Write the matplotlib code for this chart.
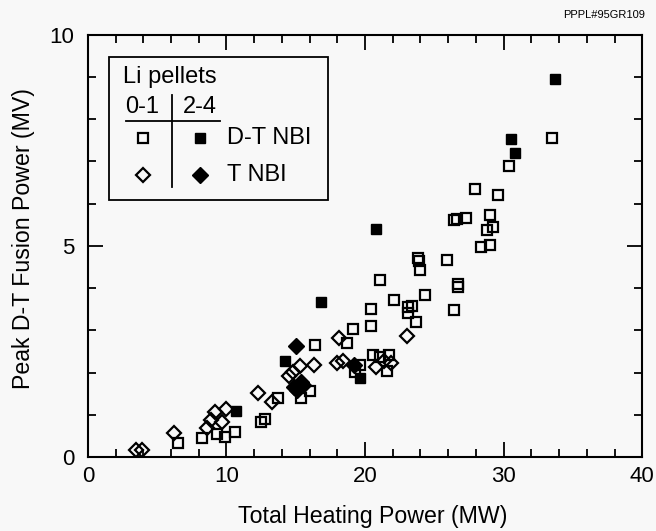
import numpy as np
import matplotlib
matplotlib.use("Agg")
import matplotlib.pyplot as plt
from matplotlib.patches import Rectangle
from matplotlib.lines import Line2D

plt.rcParams['font.family'] = ['Liberation Sans', 'DejaVu Sans']

# D-T NBI, 0-1 Li pellets (open squares)
dt_open_x = [6.5, 8.2, 9.3, 9.9, 10.6, 12.5, 12.8, 13.7, 15.4, 16.0, 16.4, 18.7, 19.1,
             19.6, 19.3, 20.4, 20.4, 20.6, 21.1, 21.7, 21.6, 21.1, 22.1, 23.1, 23.1,
             23.4, 23.7, 24.3, 23.8, 23.9, 24.0, 25.9, 26.4, 26.7, 26.7, 26.4, 26.6,
             27.3, 27.9, 28.4, 29.0, 28.8, 29.2, 29.0, 29.6, 30.4, 33.5]
dt_open_y = [0.34, 0.45, 0.55, 0.47, 0.60, 0.83, 0.90, 1.40, 1.40, 1.57, 2.66, 2.71, 3.04,
             2.19, 2.02, 3.10, 3.50, 2.41, 2.37, 2.41, 2.03, 4.20, 3.72, 3.41, 3.55,
             3.57, 3.19, 3.83, 4.72, 4.64, 4.42, 4.67, 3.48, 4.10, 4.03, 5.60, 5.64,
             5.67, 6.35, 4.97, 5.01, 5.37, 5.44, 5.72, 6.20, 6.90, 7.56]

# D-T NBI, 2-4 Li pellets (filled squares)
dt_fill_x = [10.7, 14.2, 16.8, 19.6, 20.8, 30.5, 30.8, 33.7]
dt_fill_y = [1.10, 2.27, 3.66, 1.88, 5.40, 7.52, 7.19, 8.94]

# T NBI, 0-1 Li pellets (open diamonds)
t_open_x = [3.5, 3.9, 6.2, 8.6, 8.9, 9.2, 9.7, 10.0, 12.3, 13.3, 14.5, 14.8, 15.3,
            16.3, 18.0, 18.1, 18.4, 20.8, 21.4, 21.9, 23.0]
t_open_y = [0.17, 0.17, 0.57, 0.68, 0.87, 1.07, 0.83, 1.14, 1.52, 1.30, 1.92, 2.02, 2.15,
            2.17, 2.24, 2.83, 2.28, 2.13, 2.27, 2.22, 2.87]

# T NBI, 2-4 Li pellets (filled diamonds)
t_fill_x = [15.0, 15.1, 15.4, 15.5, 14.9, 19.2]
t_fill_y = [2.62, 1.60, 1.78, 1.70, 1.66, 2.18]

bg = '#f8f8f8'
fig = plt.figure(figsize=(6.56, 5.31), dpi=100, facecolor=bg)
ax = fig.add_axes([0.134, 0.139, 0.845, 0.796], facecolor=bg)

sq_open = dict(marker='s', ms=6.8, mfc='none', mec='black', mew=1.6, ls='none')
sq_fill = dict(marker='s', ms=7.8, mfc='black', mec='black', mew=1, ls='none')
di_open = dict(marker='D', ms=7.2, mfc='none', mec='black', mew=1.6, ls='none')
di_fill = dict(marker='D', ms=8.2, mfc='black', mec='black', mew=1, ls='none')

ax.plot(dt_open_x, dt_open_y, **sq_open)
ax.plot(t_open_x, t_open_y, **di_open)
ax.plot(dt_fill_x, dt_fill_y, **sq_fill)
ax.plot(t_fill_x, t_fill_y, **di_fill)

ax.set_xlim(0, 40)
ax.set_ylim(0, 10)
ax.set_xticks([0, 10, 20, 30, 40])
ax.set_xticks(np.arange(0, 41, 2), minor=True)
ax.set_yticks([0, 5, 10])
ax.set_yticks(np.arange(0, 11, 1), minor=True)
ax.tick_params(which='both', direction='in', top=True, right=True, width=1.3, labelsize=16)
ax.tick_params(which='major', length=11)
ax.tick_params(which='minor', length=6)
ax.tick_params(axis='x', pad=6)
ax.tick_params(axis='y', pad=10)
for s in ax.spines.values():
    s.set_linewidth(1.5)

ax.set_xlabel('Total Heating Power (MW)', fontsize=16.7)
ax.set_ylabel('Peak D-T Fusion Power (MV)', fontsize=16.7)
ax.xaxis.set_label_coords(0.514, -0.112)
ax.yaxis.set_label_coords(-0.095, 0.518)

fig.text(0.983, 0.972, 'PPPL#95GR109', fontsize=8, ha='right', va='center')

# hand-made legend table
T = ax.transAxes
ax.add_patch(Rectangle((0.038, 0.608), 0.395, 0.338, transform=T, fill=False,
                       lw=1.3, ec='black', zorder=5))
ax.text(0.063, 0.899, 'Li pellets', transform=T, fontsize=17, ha='left', va='center')
ax.text(0.097, 0.828, '0-1', transform=T, fontsize=17, ha='center', va='center')
ax.text(0.202, 0.828, '2-4', transform=T, fontsize=17, ha='center', va='center')
ax.add_line(Line2D([0.069, 0.238], [0.795, 0.795], transform=T, color='black', lw=1.3))
ax.add_line(Line2D([0.152, 0.152], [0.639, 0.856], transform=T, color='black', lw=1.3))
ax.plot([0.099], [0.755], transform=T, **sq_open)
ax.plot([0.202], [0.755], transform=T, **sq_fill)
ax.plot([0.099], [0.667], transform=T, **di_open)
ax.plot([0.202], [0.667], transform=T, **di_fill)
ax.text(0.251, 0.755, 'D-T NBI', transform=T, fontsize=17, ha='left', va='center')
ax.text(0.251, 0.667, 'T NBI', transform=T, fontsize=17, ha='left', va='center')

fig.savefig('out.png', dpi=100, facecolor=bg)
